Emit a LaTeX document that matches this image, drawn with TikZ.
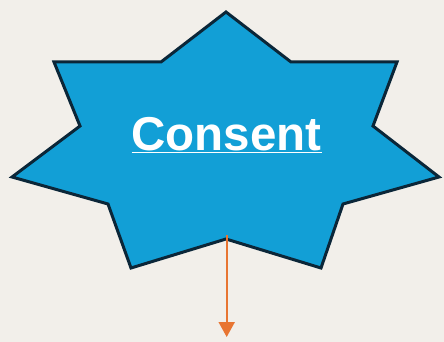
\documentclass[tikz,border=0pt]{standalone}
\usepackage{fontspec}
\setmainfont{Liberation Sans}
\usepackage{xcolor}
\usepackage{tikz}
\usetikzlibrary{arrows.meta}

\definecolor{paper}{HTML}{F2EFEA}
\definecolor{starblue}{HTML}{129FD6}
\definecolor{staredge}{HTML}{0B2638}
\definecolor{flow}{HTML}{E87532}

\begin{document}
\begin{tikzpicture}[x=1pt,y=-1pt,
  starshape/.style={fill=starblue,draw=staredge,line width=3pt,line join=miter},
  flowarrow/.style={draw=flow,line width=2pt,-{Triangle[length=15pt,width=16pt]}}]
  \fill[paper] (0,0) rectangle (444,342);
  \useasboundingbox (0,0) rectangle (444,342);
  % star outline, clockwise from the top point
  \coordinate (top) at (226,12);
  \coordinate (botin) at (226,239);
  \draw[starshape] (top) -- (291,62) -- (397,62) -- (373,126) -- (439,177)
    -- (343,204) -- (321,268) -- (botin) -- (131,268) -- (108,204)
    -- (12,177) -- (80,126) -- (54,62) -- (161,62) -- cycle;
  \node[text=white,font=\fontsize{47.5}{50}\selectfont\bfseries,anchor=base]
    (consent) at (226.5,150) {\underline{Consent}};
  % outgoing arrow
  \coordinate (from) at (226.7,235);
  \coordinate (to) at (226.7,337);
  \draw[flowarrow] (from) -- (to);
\end{tikzpicture}
\end{document}
